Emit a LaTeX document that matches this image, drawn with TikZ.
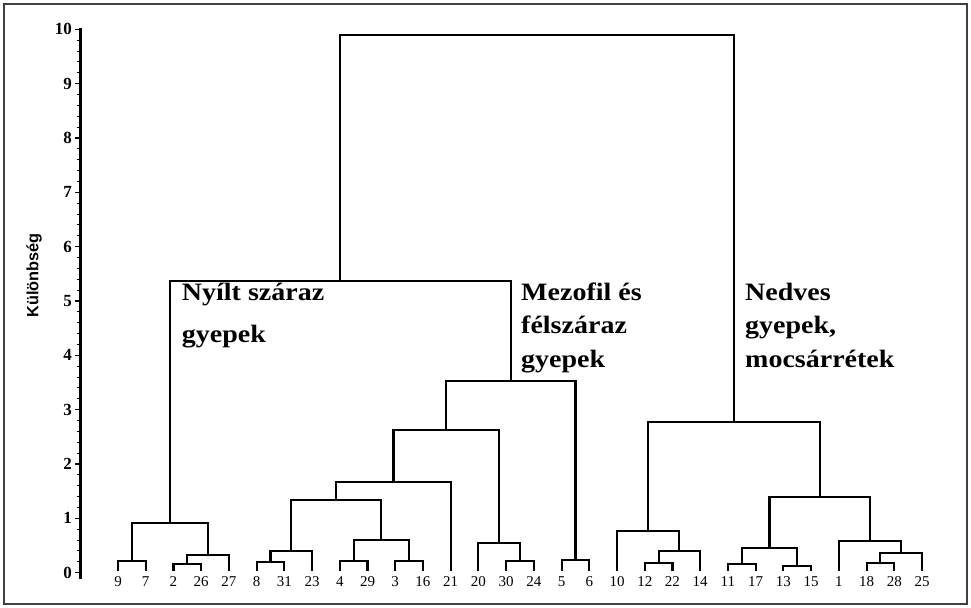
\documentclass[tikz,border=0pt]{standalone}
\usepackage{fontspec}
\setmainfont{Liberation Serif}
\newfontfamily\grpfont[FakeStretch=1.12]{Liberation Serif}
\newfontfamily\ylfont{Liberation Sans}
\usetikzlibrary{calc}
\tikzset{
  dlink/.style={line width=2.1pt, black},
  leaflab/.style={font=\fontsize{15}{17}\selectfont, inner sep=0pt},
  ticklab/.style={font=\bfseries\fontsize{17}{19}\selectfont, anchor=east, inner sep=0pt},
  grplab/.style={font=\grpfont\bfseries\fontsize{25}{29}\selectfont, anchor=base west, inner sep=0pt},
  majtick/.style={line width=1.4pt, black},
  mintick/.style={line width=1pt, black},
  axisline/.style={line width=3pt, black},
  framebox/.style={line width=1.5pt, black!75},
}
\newcommand\mrg[4]{%
  \path let \p1=(#2), \p2=(#3) in coordinate (#1) at ({0.5*\x1+0.5*\x2},{#4*54.34pt});
  \draw[dlink] (#2) |- (#1) -| (#3);}
\begin{document}
\begin{tikzpicture}[x=1pt, y=54.34pt]
\useasboundingbox (0,-0.6496) rectangle (971,10.539);
\draw[framebox] (4,-0.576) rectangle (967,10.466);
% axis
\coordinate (axb) at (80.5,-0.116);
\coordinate (axt) at (80.5,10.024);
\draw[axisline] (axb) -- (axt);
\foreach \j in {1,...,49} {
  \draw[mintick] (77,\j/5) -- (80.5,\j/5);
}
\foreach \v in {0,...,10} {
  \draw[majtick] (75,\v) -- (80.5,\v);
  \node[ticklab] (k\v) at (72,\v) {\v};
}
\node[rotate=90, inner sep=0pt, font=\ylfont\bfseries\fontsize{16.3}{18}\selectfont] (ylab) at (34,5.469) {Különbség};
% leaves
\foreach \lab [count=\i from 0] in {9,7,2,26,27,8,31,23,4,29,3,16,21,20,30,24,5,6,10,12,22,14,11,17,13,15,1,18,28,25} {
  \coordinate (l\lab) at ({118+27.724*\i},0.03);
  \node[leaflab] (t\lab) at ({118+27.724*\i},-0.166) {\lab};
}
% merges
\mrg{m97}{l9}{l7}{0.215}
\mrg{m226}{l2}{l26}{0.155}
\mrg{m227}{m226}{l27}{0.326}
\mrg{mA}{m97}{m227}{0.909}
\mrg{m831}{l8}{l31}{0.202}
\mrg{m823}{m831}{l23}{0.405}
\mrg{m429}{l4}{l29}{0.215}
\mrg{m316}{l3}{l16}{0.215}
\mrg{m416}{m429}{m316}{0.60}
\mrg{mB}{m823}{m416}{1.338}
\mrg{mC}{mB}{l21}{1.675}
\mrg{m3024}{l30}{l24}{0.215}
\mrg{m20}{l20}{m3024}{0.552}
\mrg{mD}{mC}{m20}{2.626}
\mrg{m56}{l5}{l6}{0.234}
\mrg{mE}{mD}{m56}{3.528}
\mrg{mF}{mA}{mE}{5.36}
\mrg{m1222}{l12}{l22}{0.184}
\mrg{m14}{m1222}{l14}{0.405}
\mrg{m10}{l10}{m14}{0.773}
\mrg{m1117}{l11}{l17}{0.155}
\mrg{m1315}{l13}{l15}{0.123}
\mrg{mG}{m1117}{m1315}{0.46}
\mrg{m1828}{l18}{l28}{0.184}
\mrg{m25}{m1828}{l25}{0.357}
\mrg{m1}{l1}{m25}{0.583}
\mrg{mH}{mG}{m1}{1.388}
\mrg{mI}{m10}{mH}{2.768}
\mrg{mTop}{mF}{mI}{9.895}
% group labels
\node[grplab] (g1a) at (181.7,5.006) {Nyílt száraz};
\node[grplab] (g1b) at (181.7,4.227) {gyepek};
\node[grplab] (g2a) at (521,5.006) {Mezofil és};
\node[grplab] (g2b) at (521,4.393) {félszáraz};
\node[grplab] (g2c) at (521,3.780) {gyepek};
\node[grplab] (g3a) at (745,5.006) {Nedves};
\node[grplab] (g3b) at (745,4.393) {gyepek,};
\node[grplab] (g3c) at (745,3.780) {mocsárrétek};
\end{tikzpicture}
\end{document}
